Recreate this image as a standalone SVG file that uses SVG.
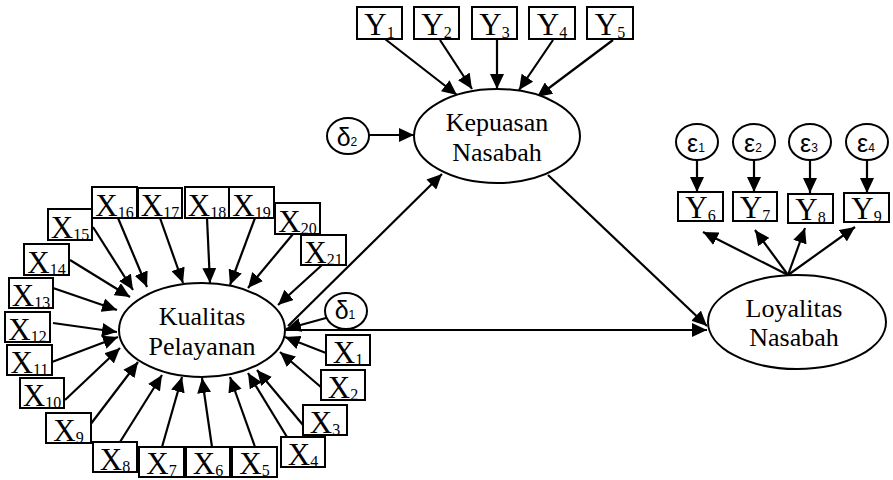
<svg xmlns="http://www.w3.org/2000/svg" width="893" height="480" viewBox="0 0 893 480">
<defs>
<marker id="ah" markerUnits="userSpaceOnUse" markerWidth="16" markerHeight="14" refX="15" refY="7" orient="auto"><path d="M0,0 L15,7 L0,14 z" fill="#000"/></marker>
<style>
.b{fill:#fff;stroke:#000;stroke-width:2}
.e{fill:#fff;stroke:#000;stroke-width:2}
.l{fill:none;stroke:#000;stroke-width:2.2;marker-end:url(#ah)}
.t{font-size:31px;fill:#000;text-anchor:middle}
.s{font-size:16px}
.n{font-size:26px;fill:#000;text-anchor:middle}
.g{font-family:'Liberation Sans',Arial,sans-serif;font-size:25px;fill:#000;text-anchor:middle}
.gs{font-size:12px}
</style>
</defs>
<rect width="893" height="480" fill="#fff"/>
<g id="connectors">
<line class="l" x1="385" y1="39" x2="457" y2="95"/>
<line class="l" x1="440" y1="40" x2="472" y2="89"/>
<line class="l" x1="497" y1="40" x2="497" y2="89"/>
<line class="l" x1="553" y1="40" x2="519" y2="90"/>
<line class="l" x1="613" y1="40" x2="537" y2="97"/>
<line class="l" x1="369" y1="135" x2="414" y2="135"/>
<line class="l" x1="288" y1="326" x2="442" y2="174"/>
<line class="l" x1="548" y1="175" x2="707" y2="326"/>
<line class="l" x1="286" y1="330" x2="707" y2="330"/>
<line class="l" x1="326" y1="318" x2="286" y2="329"/>
<line class="l" x1="788" y1="275" x2="703" y2="232"/>
<line class="l" x1="788" y1="275" x2="755" y2="230"/>
<line class="l" x1="788" y1="275" x2="805" y2="228"/>
<line class="l" x1="788" y1="275" x2="855" y2="227"/>
<line class="l" x1="697" y1="160" x2="697" y2="192"/>
<line class="l" x1="754" y1="160" x2="754" y2="192"/>
<line class="l" x1="810" y1="160" x2="810" y2="193"/>
<line class="l" x1="867" y1="160" x2="867" y2="193"/>
<line class="l" x1="326" y1="353" x2="285" y2="337"/>
<line class="l" x1="322" y1="388" x2="280" y2="352"/>
<line class="l" x1="303" y1="425" x2="257" y2="370"/>
<line class="l" x1="287" y1="437" x2="248" y2="373"/>
<line class="l" x1="255" y1="447" x2="230" y2="377"/>
<line class="l" x1="212" y1="447" x2="202" y2="378"/>
<line class="l" x1="162" y1="447" x2="182" y2="377"/>
<line class="l" x1="120" y1="442" x2="162" y2="375"/>
<line class="l" x1="90" y1="425" x2="138" y2="362"/>
<line class="l" x1="65" y1="400" x2="120" y2="348"/>
<line class="l" x1="52" y1="362" x2="118" y2="337"/>
<line class="l" x1="53" y1="323" x2="117" y2="332"/>
<line class="l" x1="53" y1="288" x2="117" y2="310"/>
<line class="l" x1="70" y1="260" x2="130" y2="297"/>
<line class="l" x1="93" y1="227" x2="133" y2="290"/>
<line class="l" x1="118" y1="218" x2="147" y2="287"/>
<line class="l" x1="160" y1="218" x2="183" y2="283"/>
<line class="l" x1="207" y1="218" x2="210" y2="283"/>
<line class="l" x1="255" y1="218" x2="230" y2="285"/>
<line class="l" x1="293" y1="234" x2="248" y2="288"/>
<line class="l" x1="322" y1="265" x2="278" y2="305"/>
</g>
<g id="nodes" font-family="Liberation Serif, Times New Roman, serif">
<g id="kualitas"><ellipse class="e" cx="202" cy="330" rx="83" ry="47"/><text class="n" x="202" y="325">Kualitas</text><text class="n" x="202" y="355">Pelayanan</text></g>
<g id="kepuasan"><ellipse class="e" cx="497" cy="136" rx="83" ry="47"/><text class="n" x="497" y="131">Kepuasan</text><text class="n" x="497" y="161">Nasabah</text></g>
<g id="loyalitas"><ellipse class="e" cx="797" cy="322" rx="89" ry="47"/><text class="n" x="794" y="317">Loyalitas</text><text class="n" x="794" y="346">Nasabah</text></g>
<g id="d2"><ellipse class="e" cx="348" cy="136" rx="21" ry="18"/><text class="g" x="347" y="146">δ<tspan class="gs">2</tspan></text></g>
<g id="d1"><ellipse class="e" cx="346" cy="311" rx="21" ry="18"/><text class="g" x="345" y="319">δ<tspan class="gs">1</tspan></text></g>
<g id="e1"><ellipse class="e" cx="697" cy="142" rx="21" ry="18"/><text class="g" x="696" y="152">ε<tspan class="gs">1</tspan></text></g>
<g id="e2"><ellipse class="e" cx="754" cy="142" rx="21" ry="18"/><text class="g" x="753" y="152">ε<tspan class="gs">2</tspan></text></g>
<g id="e3"><ellipse class="e" cx="810" cy="142" rx="21" ry="18"/><text class="g" x="809" y="152">ε<tspan class="gs">3</tspan></text></g>
<g id="e4"><ellipse class="e" cx="867" cy="142" rx="21" ry="18"/><text class="g" x="866" y="152">ε<tspan class="gs">4</tspan></text></g>
<g id="Y1"><rect class="b" x="357" y="7" width="45" height="32"/><text class="t" x="379.5" y="35">Y<tspan class="s" dy="3">1</tspan></text></g>
<g id="Y2"><rect class="b" x="414" y="7" width="45" height="32"/><text class="t" x="436.5" y="35">Y<tspan class="s" dy="3">2</tspan></text></g>
<g id="Y3"><rect class="b" x="472" y="7" width="45" height="32"/><text class="t" x="494.5" y="35">Y<tspan class="s" dy="3">3</tspan></text></g>
<g id="Y4"><rect class="b" x="529" y="7" width="46" height="32"/><text class="t" x="552" y="35">Y<tspan class="s" dy="3">4</tspan></text></g>
<g id="Y5"><rect class="b" x="587" y="7" width="46" height="32"/><text class="t" x="610" y="35">Y<tspan class="s" dy="3">5</tspan></text></g>
<g id="Y6"><rect class="b" x="678" y="192" width="45" height="29"/><text class="t" x="700.5" y="218">Y<tspan class="s" dy="3">6</tspan></text></g>
<g id="Y7"><rect class="b" x="733" y="192" width="44" height="29"/><text class="t" x="755" y="218">Y<tspan class="s" dy="3">7</tspan></text></g>
<g id="Y8"><rect class="b" x="788" y="194" width="45" height="29"/><text class="t" x="810.5" y="220">Y<tspan class="s" dy="3">8</tspan></text></g>
<g id="Y9"><rect class="b" x="844" y="193" width="45" height="29"/><text class="t" x="866.5" y="219">Y<tspan class="s" dy="3">9</tspan></text></g>
<g id="X1"><rect class="b" x="326" y="335" width="44" height="30"/><text class="t" x="348" y="363">X<tspan class="s" dy="2">1</tspan></text></g>
<g id="X2"><rect class="b" x="321" y="370" width="44" height="30"/><text class="t" x="343" y="398">X<tspan class="s" dy="2">2</tspan></text></g>
<g id="X3"><rect class="b" x="303" y="405" width="44" height="30"/><text class="t" x="325" y="433">X<tspan class="s" dy="2">3</tspan></text></g>
<g id="X4"><rect class="b" x="281" y="437" width="44" height="30"/><text class="t" x="303" y="465">X<tspan class="s" dy="2">4</tspan></text></g>
<g id="X5"><rect class="b" x="232" y="447" width="45" height="30"/><text class="t" x="254.5" y="474">X<tspan class="s" dy="2">5</tspan></text></g>
<g id="X6"><rect class="b" x="186" y="447" width="44" height="30"/><text class="t" x="208" y="474">X<tspan class="s" dy="2">6</tspan></text></g>
<g id="X7"><rect class="b" x="139" y="447" width="45" height="30"/><text class="t" x="161.5" y="474">X<tspan class="s" dy="2">7</tspan></text></g>
<g id="X8"><rect class="b" x="93" y="442" width="44" height="30"/><text class="t" x="115" y="470">X<tspan class="s" dy="2">8</tspan></text></g>
<g id="X9"><rect class="b" x="46" y="413" width="45" height="30"/><text class="t" x="68.5" y="441">X<tspan class="s" dy="2">9</tspan></text></g>
<g id="X10"><rect class="b" x="20" y="378" width="44" height="30"/><text class="t" x="42" y="406">X<tspan class="s" dy="2">10</tspan></text></g>
<g id="X11"><rect class="b" x="7" y="345" width="45" height="30"/><text class="t" x="29.5" y="373">X<tspan class="s" dy="2">11</tspan></text></g>
<g id="X12"><rect class="b" x="5" y="312" width="45" height="30"/><text class="t" x="27.5" y="340">X<tspan class="s" dy="2">12</tspan></text></g>
<g id="X13"><rect class="b" x="9" y="278" width="44" height="30"/><text class="t" x="31" y="306">X<tspan class="s" dy="2">13</tspan></text></g>
<g id="X14"><rect class="b" x="24" y="244" width="45" height="31"/><text class="t" x="46.5" y="273">X<tspan class="s" dy="2">14</tspan></text></g>
<g id="X15"><rect class="b" x="48" y="209" width="44" height="31"/><text class="t" x="70" y="238">X<tspan class="s" dy="2">15</tspan></text></g>
<g id="X16"><rect class="b" x="92" y="187" width="45" height="31"/><text class="t" x="114.5" y="216">X<tspan class="s" dy="2">16</tspan></text></g>
<g id="X17"><rect class="b" x="138" y="188" width="44" height="30"/><text class="t" x="160" y="216">X<tspan class="s" dy="2">17</tspan></text></g>
<g id="X18"><rect class="b" x="185" y="187" width="44" height="31"/><text class="t" x="207" y="216">X<tspan class="s" dy="2">18</tspan></text></g>
<g id="X19"><rect class="b" x="229" y="187" width="45" height="31"/><text class="t" x="251.5" y="216">X<tspan class="s" dy="2">19</tspan></text></g>
<g id="X20"><rect class="b" x="275" y="203" width="45" height="31"/><text class="t" x="297.5" y="232">X<tspan class="s" dy="2">20</tspan></text></g>
<g id="X21"><rect class="b" x="301" y="235" width="45" height="30"/><text class="t" x="323.5" y="263">X<tspan class="s" dy="2">21</tspan></text></g>
</g>
</svg>
